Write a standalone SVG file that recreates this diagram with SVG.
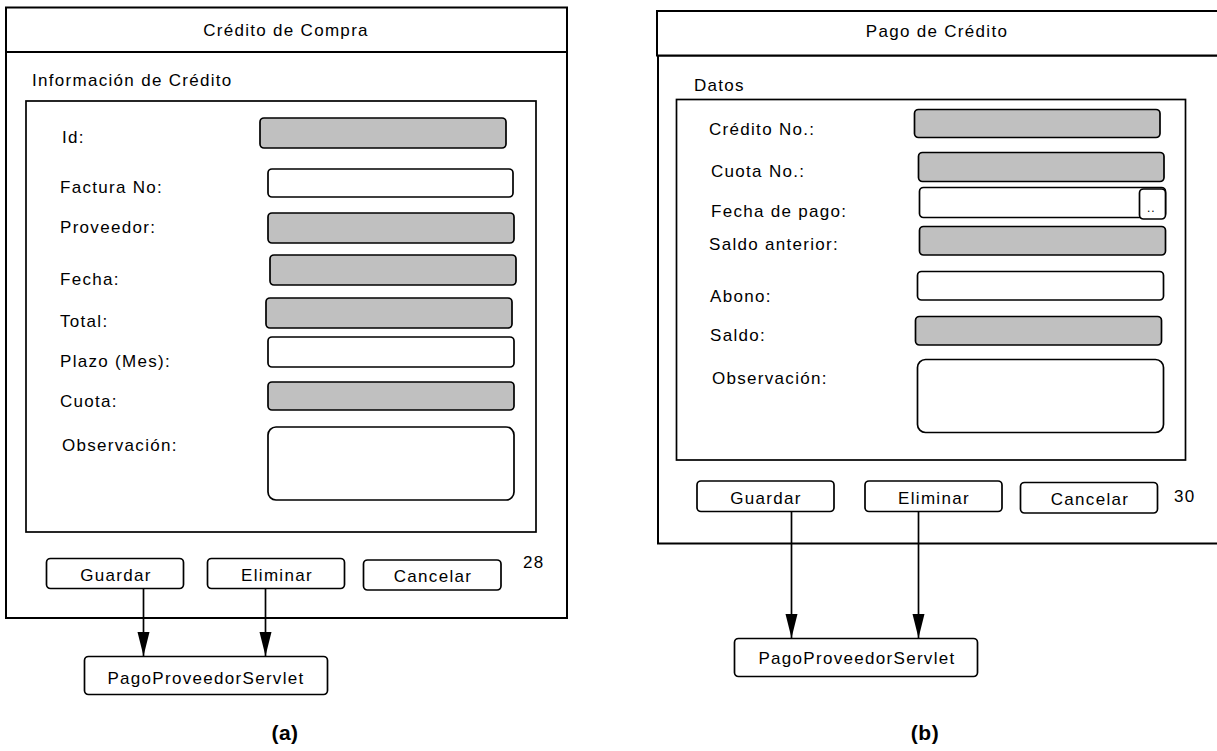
<svg xmlns="http://www.w3.org/2000/svg" width="1217" height="751" viewBox="0 0 1217 751">
<defs>
<style>
text{font-family:"Liberation Sans",Arial,sans-serif;font-size:17px;letter-spacing:1.3px;fill:#000}
.c{text-anchor:middle}
.cap{font-weight:bold;font-size:21px;letter-spacing:0.5px}
.frame{fill:#fff;stroke:#000;stroke-width:2}
.box{fill:#fff;stroke:#000;stroke-width:1.7}
.fg{fill:#c0c0c0;stroke:#000;stroke-width:1.7}
.fw{fill:#fff;stroke:#000;stroke-width:1.7}
.btn{fill:#fff;stroke:#000;stroke-width:1.7}
.con{stroke:#000;stroke-width:1.7;fill:none}
</style>
<marker id="ah" markerUnits="userSpaceOnUse" markerWidth="24" markerHeight="14" refX="24" refY="7" orient="auto" viewBox="0 0 24 14">
<path d="M0,1 L24,7 L0,13 Z" fill="#000"/>
</marker>
</defs>
<rect width="1217" height="751" fill="#fff"/>

<!-- Left panel -->
<g id="panel-a">
<rect class="frame" x="6" y="52" width="561" height="566"/>
<rect class="frame" x="6" y="7.5" width="561" height="44.5"/>
<text class="c" x="286" y="36">Crédito de Compra</text>
<text x="32" y="86">Información de Crédito</text>
<rect class="box" x="26" y="101" width="510" height="431"/>
</g>
<g id="a-id"><text x="62" y="143">Id:</text><rect class="fg" x="260" y="118" width="246" height="30" rx="4"/></g>
<g id="a-factura"><text x="60" y="193">Factura No:</text><rect class="fw" x="268" y="169" width="245" height="28" rx="4"/></g>
<g id="a-proveedor"><text x="60" y="233">Proveedor:</text><rect class="fg" x="268" y="213" width="246" height="30" rx="4"/></g>
<g id="a-fecha"><text x="60" y="285">Fecha:</text><rect class="fg" x="270" y="255" width="246" height="30" rx="4"/></g>
<g id="a-total"><text x="60" y="327">Total:</text><rect class="fg" x="266" y="298" width="246" height="30" rx="4"/></g>
<g id="a-plazo"><text x="60" y="367">Plazo (Mes):</text><rect class="fw" x="268" y="337" width="246" height="30" rx="4"/></g>
<g id="a-cuota"><text x="60" y="407">Cuota:</text><rect class="fg" x="268" y="382" width="246" height="28" rx="4"/></g>
<g id="a-obs"><text x="62" y="451">Observación:</text><rect class="fw" x="268" y="427" width="246" height="73" rx="8"/></g>
<g id="a-guardar"><rect class="btn" x="46.5" y="558.5" width="137" height="30" rx="4"/><text class="c" x="116" y="581">Guardar</text></g>
<g id="a-eliminar"><rect class="btn" x="207.5" y="558.5" width="137" height="30" rx="4"/><text class="c" x="277" y="581">Eliminar</text></g>
<g id="a-cancelar"><rect class="btn" x="363.5" y="560" width="137.5" height="30" rx="4"/><text class="c" x="433" y="582">Cancelar</text></g>
<g id="a-num"><text x="523" y="568">28</text></g>
<g id="a-servlet"><rect class="btn" x="84.5" y="656.5" width="243" height="38" rx="4"/><text class="c" x="206" y="684">PagoProveedorServlet</text></g>
<g id="a-caption"><text class="c cap" x="285" y="740">(a)</text></g>

<!-- Right panel -->
<g id="panel-b">
<rect class="frame" x="658" y="55.5" width="600" height="488"/>
<rect class="frame" x="657" y="11" width="600" height="44.5"/>
<text class="c" x="937" y="37">Pago de Crédito</text>
<text x="694" y="91">Datos</text>
<rect class="box" x="676.5" y="99.5" width="509" height="360.5"/>
</g>
<g id="b-credito"><text x="709" y="135">Crédito No.:</text><rect class="fg" x="914.5" y="109.5" width="245.5" height="28" rx="4"/></g>
<g id="b-cuota"><text x="711" y="177">Cuota No.:</text><rect class="fg" x="918.5" y="152.5" width="245.5" height="29" rx="4"/></g>
<g id="b-fecha"><text x="711" y="217">Fecha de pago:</text><rect class="fw" x="919.5" y="187.5" width="246" height="30" rx="4"/><rect class="btn" x="1139.5" y="189" width="26" height="30" rx="4"/><text x="1147" y="212" style="font-size:12px;letter-spacing:1px">..</text></g>
<g id="b-saldoant"><text x="709" y="250">Saldo anterior:</text><rect class="fg" x="919.5" y="226.5" width="246" height="28.5" rx="4"/></g>
<g id="b-abono"><text x="710" y="302">Abono:</text><rect class="fw" x="917.5" y="271.5" width="246" height="28.5" rx="4"/></g>
<g id="b-saldo"><text x="710" y="341">Saldo:</text><rect class="fg" x="915.5" y="316.5" width="246" height="28.5" rx="4"/></g>
<g id="b-obs"><text x="712" y="384">Observación:</text><rect class="fw" x="917.5" y="359.5" width="246" height="73" rx="8"/></g>
<g id="b-guardar"><rect class="btn" x="697" y="481" width="137" height="30.5" rx="4"/><text class="c" x="766" y="504">Guardar</text></g>
<g id="b-eliminar"><rect class="btn" x="865" y="481" width="137" height="30.5" rx="4"/><text class="c" x="934" y="504">Eliminar</text></g>
<g id="b-cancelar"><rect class="btn" x="1020.5" y="482.5" width="137" height="30.5" rx="4"/><text class="c" x="1090" y="505">Cancelar</text></g>
<g id="b-num"><text x="1174" y="502">30</text></g>
<g id="b-servlet"><rect class="btn" x="734.5" y="638.5" width="243" height="38" rx="4"/><text class="c" x="857" y="664">PagoProveedorServlet</text></g>
<g id="b-caption"><text class="c cap" x="925" y="740">(b)</text></g>

<g id="connectors">
<line class="con" x1="143.5" y1="588.5" x2="143.5" y2="656" marker-end="url(#ah)"/>
<line class="con" x1="265.5" y1="588.5" x2="265.5" y2="656" marker-end="url(#ah)"/>
<line class="con" x1="791.5" y1="511.5" x2="791.5" y2="638" marker-end="url(#ah)"/>
<line class="con" x1="918.5" y1="511.5" x2="918.5" y2="638" marker-end="url(#ah)"/>
</g>
</svg>
